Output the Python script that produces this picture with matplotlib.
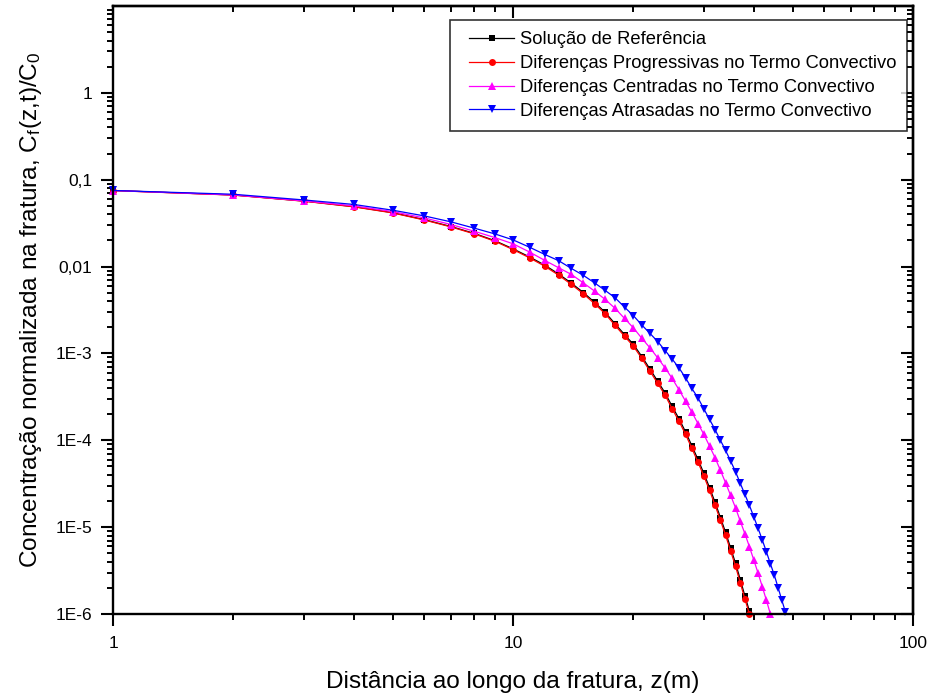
import numpy as np
import matplotlib
matplotlib.use("Agg")
import matplotlib.pyplot as plt
from matplotlib.lines import Line2D
from matplotlib.legend_handler import HandlerLine2D
from matplotlib.ticker import LogLocator, NullFormatter

# ==========================================
# 1. Data (z = 1, 2, 3, ...)
# ==========================================

ref_vals = [0.0752, 0.0667, 0.0568, 0.0490, 0.0418, 0.0347, 0.0289, 0.0241, 0.0199, 0.0160,
            0.0129, 0.0104, 0.00822, 0.00643, 0.00502, 0.00387, 0.00297, 0.00219, 0.00165, 0.00127,
            9.2e-4, 6.6e-4, 4.78e-4, 3.51e-4, 2.45e-4, 1.77e-4, 1.25e-4, 8.65e-5, 6.02e-5, 4.16e-5,
            2.85e-5, 1.93e-5, 1.29e-5, 8.7e-6, 5.75e-6, 3.84e-6, 2.49e-6, 1.61e-6, 1.08e-6]

prog_vals = [0.0750, 0.0665, 0.0566, 0.0487, 0.0415, 0.0344, 0.0286, 0.0238, 0.0196, 0.0157,
             0.0126, 0.0101, 0.00797, 0.00622, 0.00485, 0.00373, 0.00286, 0.00210, 0.00158, 0.00121,
             8.75e-4, 6.25e-4, 4.52e-4, 3.31e-4, 2.30e-4, 1.66e-4, 1.17e-4, 8.07e-5, 5.61e-5, 3.87e-5,
             2.65e-5, 1.79e-5, 1.20e-5, 8.05e-6, 5.31e-6, 3.54e-6, 2.29e-6, 1.48e-6, 1.0e-6]

cent_vals = [0.0750, 0.0668, 0.0570, 0.0500, 0.0430, 0.0363, 0.0305, 0.0255, 0.0216, 0.0183,
             0.0147, 0.0118, 0.00970, 0.00811, 0.00648, 0.00521, 0.00418, 0.00330, 0.00253, 0.00197,
             0.00149, 0.00116, 8.89e-4, 6.82e-4, 5.15e-4, 3.82e-4, 2.82e-4, 2.11e-4, 1.56e-4, 1.17e-4,
             8.57e-5, 6.30e-5, 4.51e-5, 3.24e-5, 2.32e-5, 1.67e-5, 1.17e-5, 8.39e-6, 5.94e-6, 4.18e-6,
             2.94e-6, 2.06e-6, 1.44e-6, 1.0e-6]

atras_vals = [0.0752, 0.0680, 0.0585, 0.0519, 0.0446, 0.0383, 0.0327, 0.0277, 0.0238, 0.0203,
              0.0167, 0.0138, 0.0117, 0.00951, 0.00791, 0.00648, 0.00531, 0.00437, 0.00341, 0.00272,
              0.00212, 0.00170, 0.00137, 0.00108, 8.6e-4, 6.82e-4, 5.23e-4, 3.95e-4, 3.08e-4, 2.30e-4,
              1.74e-4, 1.33e-4, 1.00e-4, 7.65e-5, 5.77e-5, 4.35e-5, 3.19e-5, 2.38e-5, 1.78e-5, 1.31e-5,
              9.68e-6, 7.11e-6, 5.21e-6, 3.79e-6, 2.81e-6, 2.01e-6, 1.44e-6, 1.05e-6]

labels = ["Solução de Referência",
          "Diferenças Progressivas no Termo Convectivo",
          "Diferenças Centradas no Termo Convectivo",
          "Diferenças Atrasadas no Termo Convectivo"]

x_ticks = [1, 10, 100]
x_tick_labels = ["1", "10", "100"]
y_ticks = [1e-6, 1e-5, 1e-4, 1e-3, 1e-2, 1e-1, 1]
y_tick_labels = ["1E-6", "1E-5", "1E-4", "1E-3", "0,01", "0,1", "1"]

# ==========================================
# 2. Plot
# ==========================================

plt.rcParams["font.family"] = ["Liberation Sans", "DejaVu Sans"]
plt.rcParams["mathtext.fontset"] = "custom"
plt.rcParams["mathtext.rm"] = "Liberation Sans"
plt.rcParams["mathtext.default"] = "regular"

fig = plt.figure(figsize=(9.36, 6.99), dpi=100)
ax = fig.add_axes([113 / 936, 1 - 614 / 699, 800 / 936, 608 / 699])

series = [
    (ref_vals, "black", "s", 4.0),
    (prog_vals, "red", "o", 5.0),
    (cent_vals, "magenta", "^", 5.5),
    (atras_vals, "blue", "v", 5.5),
]
for (vals, col, mk, ms), lab in zip(series, labels):
    z = np.arange(1, len(vals) + 1)
    ax.plot(z, vals, color=col, marker=mk, markersize=ms, linewidth=0.9,
            markeredgewidth=0, label=lab, clip_on=False)

ax.set_xscale("log")
ax.set_yscale("log")
ax.set_xlim(1, 100)
ax.set_ylim(1e-6, 10)

ax.set_xticks(x_ticks, x_tick_labels)
ax.set_yticks(y_ticks, y_tick_labels)
ax.xaxis.set_minor_locator(LogLocator(base=10, subs=np.arange(2, 10), numticks=100))
ax.yaxis.set_minor_locator(LogLocator(base=10, subs=np.arange(2, 10), numticks=100))
ax.xaxis.set_minor_formatter(NullFormatter())
ax.yaxis.set_minor_formatter(NullFormatter())

for sp in ax.spines.values():
    sp.set_linewidth(1.7)
ax.tick_params(which="major", direction="out", length=8.6, width=1.5, labelsize=12.5)
ax.tick_params(which="minor", direction="out", length=4.5, width=1.4)
ax.tick_params(axis="x", which="major", pad=7.5)
ax.tick_params(axis="y", which="major", pad=6.5)

# top and right axes with ticks pointing inwards, no labels
top = ax.secondary_xaxis("top")
top.xaxis.set_minor_locator(LogLocator(base=10, subs=np.arange(2, 10), numticks=100))
top.set_xticks(x_ticks)
top.tick_params(which="major", direction="in", length=8.6, width=1.5, labeltop=False)
top.tick_params(which="minor", direction="in", length=4.5, width=1.4)
top.xaxis.set_minor_formatter(NullFormatter())
top.spines["top"].set_linewidth(1.7)

right = ax.secondary_yaxis("right")
right.yaxis.set_minor_locator(LogLocator(base=10, subs=np.arange(2, 10), numticks=100))
right.set_yticks(y_ticks)
right.tick_params(which="major", direction="in", length=8.6, width=1.5, labelright=False)
right.tick_params(which="minor", direction="in", length=4.5, width=1.4)
right.yaxis.set_minor_formatter(NullFormatter())
right.spines["right"].set_linewidth(1.7)

ax.set_xlabel("Distância ao longo da fratura, z(m)", fontsize=17.6, labelpad=14)
ax.set_ylabel("Concentração normalizada na fratura, C$_f$(z,t)/C$_0$", fontsize=17.6, labelpad=8)

leg = ax.legend(loc="upper right", bbox_to_anchor=(0.9925, 0.977), borderaxespad=0,
                fontsize=13.2, frameon=True, fancybox=False, edgecolor="black",
                handlelength=2.9, handletextpad=0.3, labelspacing=0.38, borderpad=0.6,
                handler_map={Line2D: HandlerLine2D(xpad=0.45)})
leg.get_frame().set_linewidth(1.2)

fig.savefig("out.png", dpi=100)
